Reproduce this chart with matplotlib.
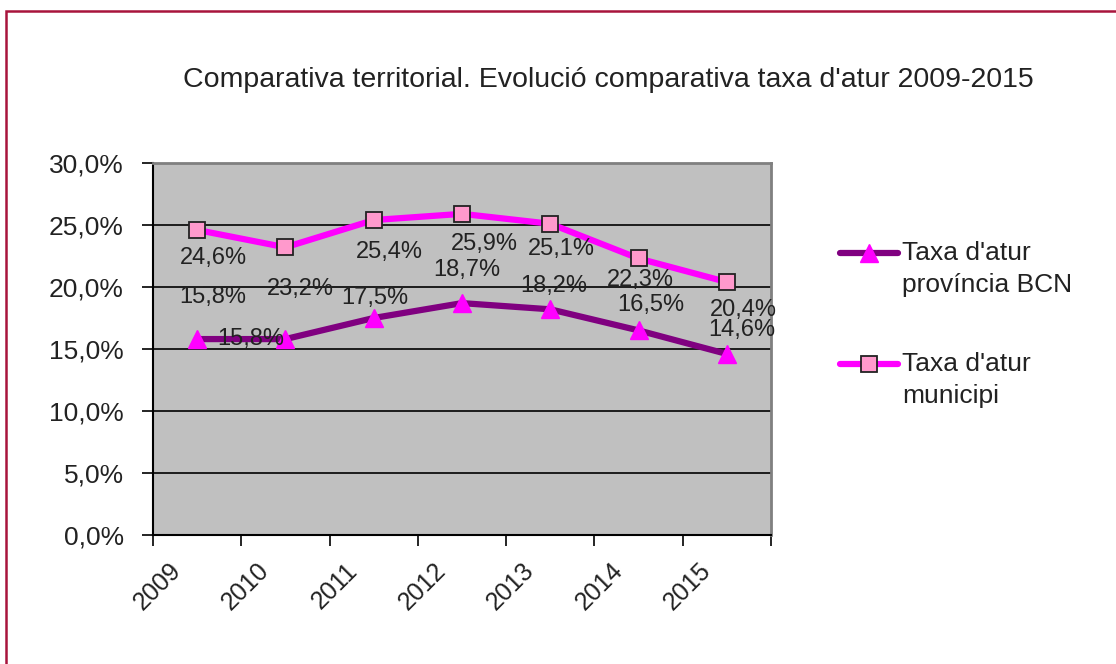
import numpy as np
import matplotlib.pyplot as plt
from matplotlib.patches import Rectangle
from matplotlib.lines import Line2D

plt.rcParams['font.family'] = ['Liberation Sans', 'DejaVu Sans']

years = ["2009", "2010", "2011", "2012", "2013", "2014", "2015"]
provincia = [15.8, 15.8, 17.5, 18.7, 18.2, 16.5, 14.6]
municipi = [24.6, 23.2, 25.4, 25.9, 25.1, 22.3, 20.4]
y_ticks = [0, 5, 10, 15, 20, 25, 30]
series_names = ["Taxa d'atur\nprovíncia BCN", "Taxa d'atur\nmunicipi"]

# label offsets in pixels (dx, dy) to mimic the overlapping Excel labels
prov_off = [(16, 42), (-35, 0), (1, 20), (5, 33), (3, 23), (12, 25), (15, 24)]
muni_off = [(16, -28), (15, -42), (16, -32), (22, -30), (11, -25), (2, -22), (17, -28)]

txt = '#222222'
prov_style = dict(color='#800080', lw=4.5, marker='^', ms=13, mfc='#FF00FF', mec='#FF00FF')
muni_style = dict(color='#FF00FF', lw=4.5, marker='s', ms=12, mfc='#FF99CC', mec='#222222', mew=1.3)

fig = plt.figure(figsize=(11.16, 6.64), dpi=100)
ax = fig.add_axes([153 / 1116, 129 / 664, 618 / 1116, 372 / 664])
ax.set_facecolor('#C0C0C0')

x = np.arange(len(years))
ax.plot(x, provincia, zorder=4, **prov_style)
ax.plot(x, municipi, zorder=4, **muni_style)

for vals, offs in [(provincia, prov_off), (municipi, muni_off)]:
    for i, v in enumerate(vals):
        ax.annotate(f"{v:.1f}%".replace('.', ','), (x[i], v), xytext=offs[i],
                    textcoords='offset pixels', ha='center', va='center',
                    fontsize=17, color=txt, zorder=5)

ax.set_xlim(-0.5, len(years) - 0.5)
ax.set_ylim(0, 30)
ax.set_yticks(y_ticks)
ax.set_yticklabels([f"{t:.1f}%".replace('.', ',') for t in y_ticks], fontsize=19, color=txt)
for t in y_ticks[1:-1]:
    ax.axhline(t, color='black', lw=1.2, zorder=1)

# rotated year labels sit a bit left of the category centre, like in Excel
ax.set_xticks(x - 0.32)
ax.set_xticklabels(years, rotation=45, ha='right', va='top', rotation_mode='anchor',
                   fontsize=18, color=txt)
ax.set_xticks(np.arange(-0.5, len(years)), minor=True)
ax.tick_params(axis='x', which='major', length=0, pad=17)
ax.tick_params(axis='x', which='minor', length=8, width=1.2, direction='out')
ax.tick_params(axis='y', length=8, width=1.2, direction='out', pad=13)

for s in ['top', 'right']:
    ax.spines[s].set_color('#808080')
    ax.spines[s].set_linewidth(2)
for s in ['left', 'bottom']:
    ax.spines[s].set_color('black')
    ax.spines[s].set_linewidth(1.5)

fig.text(608 / 1116, 1 - 80 / 664, "Comparativa territorial. Evolució comparativa taxa d'atur 2009-2015",
         ha='center', va='center', fontsize=20.5, color=txt)

# legend drawn by hand so the handle sits on the first text line, as in Excel
for name, style, y_handle, y_text in [(series_names[0], prov_style, 253, 269),
                                      (series_names[1], muni_style, 364, 380)]:
    yf = 1 - y_handle / 664
    line_kw = {k: v for k, v in style.items() if k in ('color', 'lw')}
    fig.add_artist(Line2D([840 / 1116, 898 / 1116], [yf, yf], transform=fig.transFigure,
                          solid_capstyle='round', **line_kw))
    mk_kw = {k: v for k, v in style.items() if k not in ('color', 'lw')}
    fig.add_artist(Line2D([869 / 1116], [yf], transform=fig.transFigure, ls='none', **mk_kw))
    fig.text(902 / 1116, 1 - y_text / 664, name, ha='left', va='center', fontsize=19,
             color=txt, linespacing=1.45)

fig.patches.append(Rectangle((6 / 1116, -0.1), 1.2, (664 - 11) / 664 + 0.1,
                             transform=fig.transFigure, fill=False,
                             edgecolor='#A8143C', lw=1.8))

fig.savefig('out.png', dpi=100)
